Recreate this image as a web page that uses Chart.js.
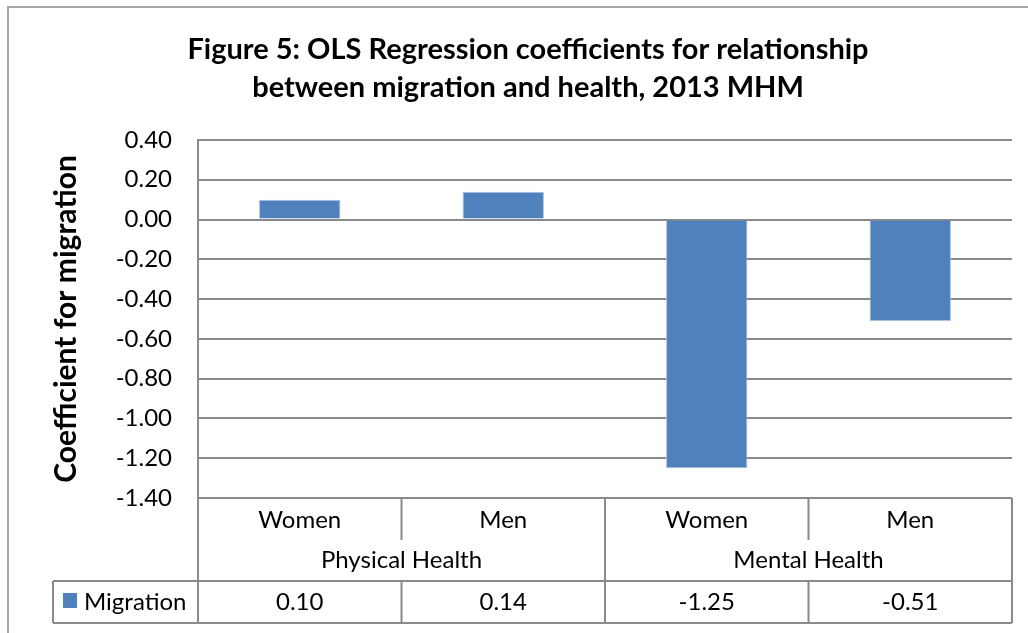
<!DOCTYPE html>
<html lang="en">
<head>
    <meta charset="UTF-8">
    <title>Figure 5: OLS Regression coefficients</title>
    <script src="https://cdn.jsdelivr.net/npm/chart.js"></script>
    <style>
        body {
            margin: 0;
            background-color: #ffffff;
        }
        #wrap {
            position: relative;
            width: 1028px;
            height: 633px;
        }
    </style>
</head>
<body>
    <div id="wrap">
        <canvas id="coefChart"></canvas>
    </div>

    <script>
        // Chart data
        const categories = ['Women', 'Men', 'Women', 'Men'];
        const groups = ['Physical Health', 'Mental Health'];
        const seriesName = 'Migration';
        const migration = [0.10, 0.14, -1.25, -0.51];
        const yTicks = [0.40, 0.20, 0.00, -0.20, -0.40, -0.60, -0.80, -1.00, -1.20, -1.40];

        const FONT = 'Lato, "Open Sans", sans-serif';
        const LINE = '#8a8a8a';
        const BLUE = '#4f81bd';
        const PAD_LEFT = 44; // shifts the title centre to the right like the original

        // Draws the outer frame and the data table under the plot
        const tablePlugin = {
            id: 'dataTable',
            afterDraw(chart) {
                const ctx = chart.ctx;
                const x = chart.scales.x;
                const area = chart.chartArea;
                const n = categories.length;
                const half = (x.getPixelForValue(1) - x.getPixelForValue(0)) / 2;
                const edges = [];
                for (let i = 0; i < n; i++) edges.push(x.getPixelForValue(i) - half);
                edges.push(x.getPixelForValue(n - 1) + half);

                const top = area.bottom;
                const catBottom = top + 42;
                const legTop = top + 83;
                const bottom = top + 125;
                const legLeft = 53;

                ctx.save();
                // outer frame
                ctx.strokeStyle = '#a6a6a6';
                ctx.lineWidth = 2;
                ctx.beginPath();
                ctx.moveTo(8, 640);
                ctx.lineTo(8, 7);
                ctx.lineTo(1040, 7);
                ctx.stroke();

                ctx.strokeStyle = LINE;
                ctx.lineWidth = 2;
                ctx.beginPath();
                // horizontal lines
                ctx.moveTo(legLeft, legTop); ctx.lineTo(edges[n], legTop);
                ctx.moveTo(legLeft, bottom); ctx.lineTo(edges[n], bottom);
                ctx.moveTo(legLeft, legTop); ctx.lineTo(legLeft, bottom);
                // vertical lines
                edges.forEach((ex, i) => {
                    if (i % 2 === 0) {
                        ctx.moveTo(ex, top); ctx.lineTo(ex, bottom);
                    } else {
                        ctx.moveTo(ex, top); ctx.lineTo(ex, catBottom);
                        ctx.moveTo(ex, legTop); ctx.lineTo(ex, bottom);
                    }
                });
                ctx.stroke();

                ctx.fillStyle = '#000000';
                ctx.font = '24px ' + FONT;
                ctx.textAlign = 'center';
                ctx.textBaseline = 'middle';
                categories.forEach((c, i) => {
                    ctx.fillText(c, x.getPixelForValue(i), top + 22);
                });
                groups.forEach((g, i) => {
                    ctx.fillText(g, (edges[i * 2] + edges[i * 2 + 2]) / 2, top + 62);
                });
                migration.forEach((v, i) => {
                    ctx.fillText(v.toFixed(2), x.getPixelForValue(i), legTop + 21);
                });

                // legend key
                ctx.fillStyle = BLUE;
                ctx.fillRect(63, legTop + 12, 14, 15);
                ctx.fillStyle = '#000000';
                ctx.textAlign = 'left';
                ctx.fillText(seriesName, 84, legTop + 21);
                ctx.restore();
            }
        };

        const ctx = document.getElementById('coefChart').getContext('2d');
        const coefChart = new Chart(ctx, {
            type: 'bar',
            data: {
                labels: categories,
                datasets: [{
                    label: seriesName,
                    data: migration,
                    backgroundColor: BLUE,
                    borderColor: '#a9c1e0',
                    borderWidth: 1,
                    categoryPercentage: 1.0,
                    barPercentage: 0.4
                }]
            },
            options: {
                responsive: true,
                maintainAspectRatio: false,
                animation: false,
                layout: {
                    padding: { left: PAD_LEFT, right: 16, top: 0, bottom: 135 }
                },
                plugins: {
                    legend: { display: false },
                    tooltip: { enabled: false },
                    title: {
                        display: true,
                        text: ['Figure 5: OLS Regression coefficients for relationship',
                               'between migration and health, 2013 MHM'],
                        color: '#000000',
                        font: { family: FONT, size: 29, weight: 'bold', lineHeight: 1.31 },
                        padding: { top: 31, bottom: 33 }
                    }
                },
                scales: {
                    x: {
                        display: false
                    },
                    y: {
                        min: -1.4,
                        max: 0.4,
                        afterFit(scale) {
                            scale.width = 198 - PAD_LEFT;
                        },
                        afterBuildTicks(scale) {
                            scale.ticks = yTicks.map(v => ({ value: v }));
                        },
                        ticks: {
                            color: '#000000',
                            font: { family: FONT, size: 24 },
                            padding: 26,
                            callback: v => v.toFixed(2)
                        },
                        grid: {
                            color: LINE,
                            lineWidth: 2,
                            drawTicks: false
                        },
                        border: {
                            color: LINE,
                            width: 2
                        },
                        title: {
                            display: true,
                            text: 'Coefficient for migration',
                            color: '#000000',
                            font: { family: FONT, size: 30, weight: 'bold' },
                            padding: { top: 48 - PAD_LEFT, bottom: 0 }
                        }
                    }
                }
            },
            plugins: [tablePlugin]
        });
    </script>
</body>
</html>
